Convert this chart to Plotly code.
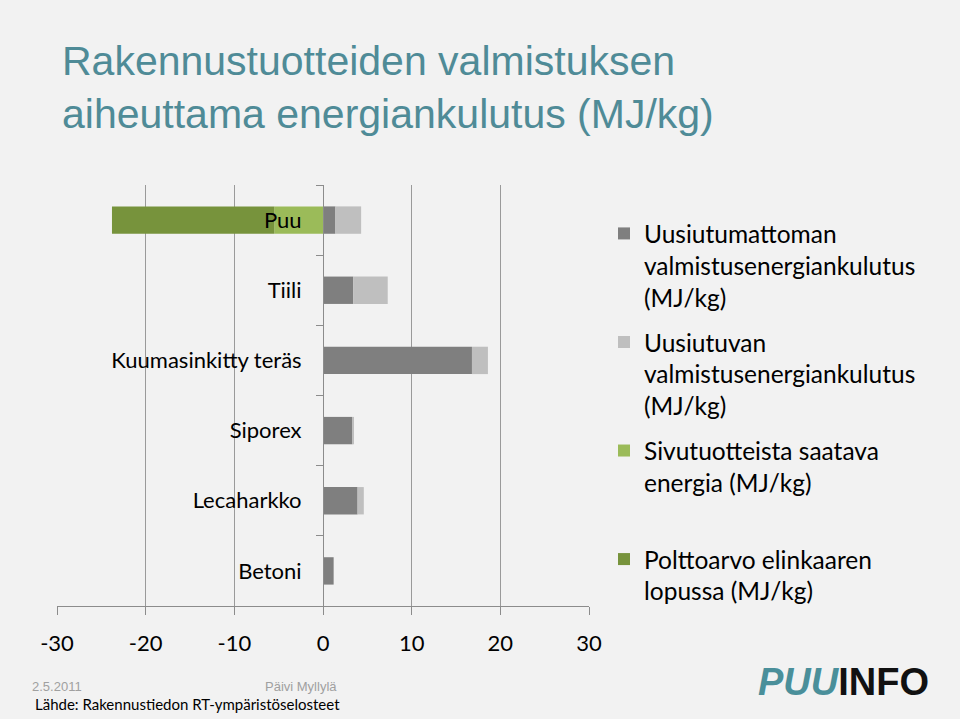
import plotly.graph_objects as go

categories = ["Puu", "Tiili", "Kuumasinkitty teräs", "Siporex", "Lecaharkko", "Betoni"]
uusiutumaton = [1.4, 3.4, 16.8, 3.3, 3.9, 1.2]
uusiutuva = [2.9, 3.9, 1.8, 0.2, 0.7, 0.0]
sivutuotteet = [-5.5, 0, 0, 0, 0, 0]
polttoarvo = [-18.3, 0, 0, 0, 0, 0]

series_names = [
    "Uusiutumattoman<br>valmistusenergiankulutus<br>(MJ/kg)",
    "Uusiutuvan<br>valmistusenergiankulutus<br>(MJ/kg)",
    "Sivutuotteista saatava<br>energia (MJ/kg)<br> ",
    "Polttoarvo elinkaaren<br>lopussa (MJ/kg)",
]
series_values = [uusiutumaton, uusiutuva, sivutuotteet, polttoarvo]
series_colors = ["#7f7f7f", "#bfbfbf", "#9bbb59", "#77933c"]

x_ticks = [-30, -20, -10, 0, 10, 20, 30]

BODY_FONT = "Lato, 'Open Sans', sans-serif"
TITLE_FONT = "'Liberation Sans', Arial, sans-serif"

fig = go.Figure()
for i, (name, vals, col) in enumerate(zip(series_names, series_values, series_colors)):
    fig.add_trace(go.Bar(
        y=categories, x=vals, name=name, orientation="h",
        marker=dict(color=col, line=dict(width=0)),
        legendgroup=f"g{i}",
    ))

L, R, T, B = 57, 371, 185, 113
W, H = 960, 719
pw, ph = W - L - R, H - T - B

def px_x(p):
    return (p - L) / pw

def px_y(p):
    return (H - B - p) / ph

fig.update_layout(
    width=W, height=H,
    margin=dict(l=L, r=R, t=T, b=B),
    paper_bgcolor="#f2f2f2", plot_bgcolor="#f2f2f2",
    barmode="relative", bargap=0.61,
    font=dict(family=BODY_FONT, size=22, color="#000000"),
    xaxis=dict(
        range=[-30, 30], tickvals=x_ticks, ticktext=[str(v) for v in x_ticks],
        showgrid=True, gridcolor="#9a9a9a", gridwidth=1,
        zeroline=False, showline=True, linecolor="#8c8c8c", linewidth=1,
        ticks="outside", ticklen=8, tickcolor="#8c8c8c",
        tickfont=dict(size=22, color="#000000"), ticklabelstandoff=10,
        fixedrange=True,
    ),
    yaxis=dict(
        categoryorder="array", categoryarray=categories, autorange="reversed",
        anchor="free", position=0.5, showline=True, linecolor="#8c8c8c", linewidth=1,
        ticks="outside", tickson="boundaries", ticklen=7, tickcolor="#8c8c8c",
        showgrid=False, zeroline=False,
        tickfont=dict(size=22, color="#000000"), ticklabelstandoff=17,
        fixedrange=True,
    ),
    legend=dict(
        x=px_x(604), y=px_y(211), xanchor="left", yanchor="top",
        font=dict(size=24.5, color="#000000"), valign="top",
        tracegroupgap=10, bgcolor="rgba(0,0,0,0)", itemclick=False,
    ),
    showlegend=True,
)

annotations = [
    dict(text="Rakennustuotteiden valmistuksen<br>aiheuttama energiankulutus (MJ/kg)",
         x=px_x(60), y=px_y(36), xanchor="left", yanchor="top", align="left",
         font=dict(family=TITLE_FONT, size=41, color="#4f8b97")),
    dict(text="2.5.2011", x=px_x(30), y=px_y(686), xanchor="left", yanchor="middle",
         font=dict(family="'Liberation Sans', Arial, sans-serif", size=13, color="#a0a0a0")),
    dict(text="Päivi Myllylä", x=px_x(301), y=px_y(686), xanchor="center", yanchor="middle",
         font=dict(family="'Liberation Sans', Arial, sans-serif", size=13, color="#a0a0a0")),
    dict(text="Lähde: Rakennustiedon RT-ympäristöselosteet", x=px_x(33), y=px_y(704),
         xanchor="left", yanchor="middle",
         font=dict(family=BODY_FONT, size=15, color="#000000")),
    dict(text="<b><i><span style='color:#4a8f9a'>PUU</span></i>INFO</b>", x=px_x(756), y=px_y(682),
         xanchor="left", yanchor="middle",
         font=dict(family=TITLE_FONT, size=38, color="#111111")),
]
for a in annotations:
    a.update(xref="paper", yref="paper", showarrow=False)
fig.update_layout(annotations=annotations)

fig.write_html(
    "out.html",
    config={"displayModeBar": False},
    post_script="document.body.style.margin='0';document.body.style.overflow='hidden';",
)
